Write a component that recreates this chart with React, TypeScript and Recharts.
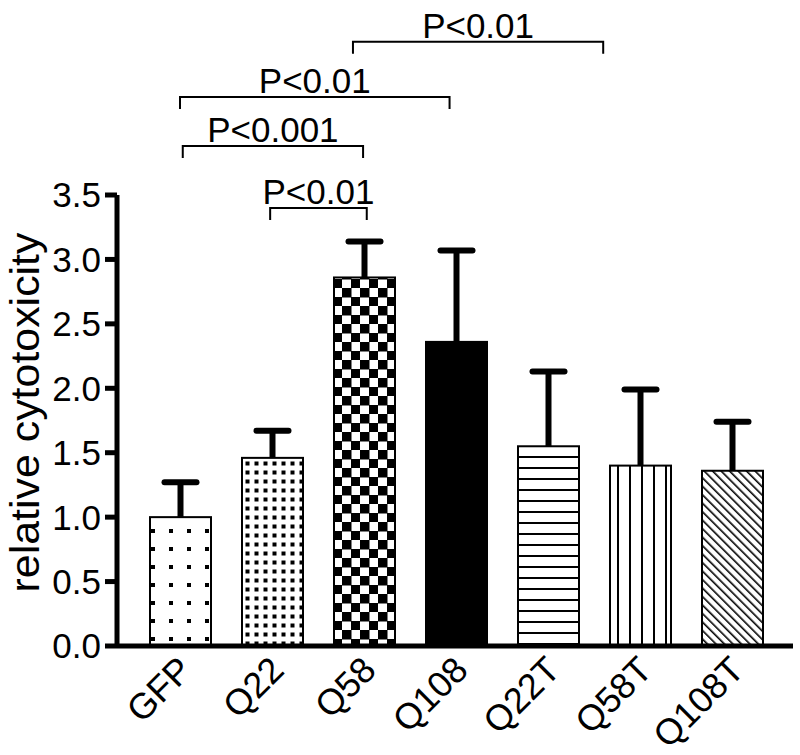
import React from "react";
import { BarChart, Bar, XAxis, YAxis, ReferenceLine } from "recharts";

const groups = ["GFP", "Q22", "Q58", "Q108", "Q22T", "Q58T", "Q108T"];
const meanValues = [1.0, 1.46, 2.86, 2.36, 1.55, 1.4, 1.36];
const errorValues = [0.27, 0.21, 0.28, 0.71, 0.58, 0.59, 0.38];
const yTicks = [0, 0.5, 1, 1.5, 2, 2.5, 3, 3.5];

// significance brackets, x in band units (band i spans i..i+1), y in data units
const bracketLabels = ["P<0.01", "P<0.01", "P<0.001", "P<0.01"];
const bracketStart = [2.38, 0.5, 0.53, 1.48];
const bracketEnd = [5.1, 3.43, 2.49, 2.53];
const bracketLevel = [4.69, 4.26, 3.88, 3.4];

const data = groups.map((name, i) => ({
  name,
  slot: i + 0.5,
  mean: meanValues[i],
  err: errorValues[i],
}));

const fills = [
  "url(#sparseDots)",
  "url(#denseDots)",
  "url(#checker)",
  "#000",
  "url(#hLines)",
  "url(#vLines)",
  "url(#diag)",
];

const font = "'Liberation Sans', Arial, sans-serif";

function Patterns() {
  return (
    <svg width={0} height={0} style={{ position: "absolute" }}>
      <defs>
        <pattern id="sparseDots" width={18} height={18} patternUnits="userSpaceOnUse">
          <rect width={18} height={18} fill="#fff" />
          <rect x={7} y={7} width={4} height={4} fill="#000" />
        </pattern>
        <pattern id="denseDots" width={9} height={9} patternUnits="userSpaceOnUse">
          <rect width={9} height={9} fill="#fff" />
          <rect x={2.5} y={2.5} width={4} height={4} fill="#000" />
        </pattern>
        <pattern id="checker" width={18} height={18} patternUnits="userSpaceOnUse">
          <rect width={18} height={18} fill="#fff" />
          <rect x={0} y={0} width={9.5} height={9.5} fill="#000" />
          <rect x={9} y={9} width={9.5} height={9.5} fill="#000" />
        </pattern>
        <pattern id="hLines" width={11} height={11} patternUnits="userSpaceOnUse">
          <rect width={11} height={11} fill="#fff" />
          <rect x={0} y={5} width={11} height={2} fill="#000" />
        </pattern>
        <pattern id="vLines" width={12} height={12} patternUnits="userSpaceOnUse">
          <rect width={12} height={12} fill="#fff" />
          <rect x={5} y={0} width={2} height={12} fill="#000" />
        </pattern>
        <pattern
          id="diag"
          width={6}
          height={6}
          patternUnits="userSpaceOnUse"
          patternTransform="rotate(-45)"
        >
          <rect width={6} height={6} fill="#fff" />
          <rect x={2} y={0} width={1.6} height={6} fill="#000" />
        </pattern>
      </defs>
    </svg>
  );
}

// bar with its upper error whisker; units per pixel taken from the bar's own scaled height
function PatternBar(props: any) {
  const { x, y, width, height, index, payload } = props;
  const cx = x + width / 2;
  const pxPerUnit = height / payload.mean;
  const top = y - payload.err * pxPerUnit;
  return (
    <g>
      <rect
        x={x}
        y={y}
        width={width}
        height={height}
        fill={fills[index]}
        stroke="#000"
        strokeWidth={2}
      />
      <line x1={cx} y1={y} x2={cx} y2={top} stroke="#000" strokeWidth={6} />
      <line
        x1={cx - 16}
        y1={top}
        x2={cx + 16}
        y2={top}
        stroke="#000"
        strokeWidth={6}
        strokeLinecap="round"
      />
    </g>
  );
}

function RotatedTick(props: any) {
  const { x, y, payload } = props;
  const ax = x + 14;
  const ay = y + 26;
  return (
    <text
      x={ax}
      y={ay}
      transform={`rotate(-45, ${ax}, ${ay})`}
      textAnchor="end"
      style={{ fontSize: 36, fontFamily: font, fill: "#000" }}
    >
      {payload.value}
    </text>
  );
}

function Bracket(props: any) {
  const { x1, y1, x2, y2 } = props;
  return (
    <path
      d={`M${x1},${y1 + 12} L${x1},${y1} L${x2},${y2} L${x2},${y2 + 12}`}
      fill="none"
      stroke="#000"
      strokeWidth={2}
    />
  );
}

export default function App() {
  return (
    <div style={{ position: "absolute", left: 0, top: 0, background: "#fff" }}>
      <Patterns />
      <BarChart
        width={800}
        height={755}
        data={data}
        margin={{ top: 195, right: 7, bottom: 0, left: 0 }}
        barSize={61}
      >
        <XAxis
          dataKey="name"
          height={109}
          axisLine={{ stroke: "#000", strokeWidth: 5 }}
          tickLine={false}
          tickSize={0}
          tickMargin={0}
          padding={{ left: 17, right: 15 }}
          tick={<RotatedTick />}
          interval={0}
        />
        <XAxis
          xAxisId="pos"
          dataKey="slot"
          type="number"
          domain={[0, 7]}
          allowDataOverflow
          padding={{ left: 17, right: 15 }}
          hide
        />
        <YAxis
          width={117}
          domain={[0, 3.5]}
          ticks={yTicks}
          allowDataOverflow
          axisLine={{ stroke: "#000", strokeWidth: 5 }}
          tickLine={{ stroke: "#000", strokeWidth: 5 }}
          tickSize={12}
          tickMargin={4}
          tickFormatter={(v: number) => v.toFixed(1)}
          tick={{ fill: "#000", fontSize: 35, fontFamily: font }}
          label={{
            content: ({ viewBox }: any) => {
              const cx = 39;
              const cy = viewBox.y + viewBox.height / 2 - 8;
              return (
                <text
                  x={cx}
                  y={cy}
                  transform={`rotate(-90, ${cx}, ${cy})`}
                  textAnchor="middle"
                  fontSize={40}
                  fontFamily={font}
                  fill="#000"
                  textLength={360}
                  lengthAdjust="spacingAndGlyphs"
                >
                  relative cytotoxicity
                </text>
              );
            },
          }}
        />
        <Bar dataKey="mean" shape={<PatternBar />} isAnimationActive={false} />
        {bracketLabels.map((label, i) => (
          <ReferenceLine
            key={i}
            xAxisId="pos"
            ifOverflow="visible"
            segment={[
              { x: bracketStart[i], y: bracketLevel[i] },
              { x: bracketEnd[i], y: bracketLevel[i] },
            ]}
            shape={<Bracket />}
            label={{
              value: label,
              position: "top",
              offset: 4,
              fill: "#000",
              fontSize: 35,
              fontFamily: font,
            }}
          />
        ))}
      </BarChart>
    </div>
  );
}
